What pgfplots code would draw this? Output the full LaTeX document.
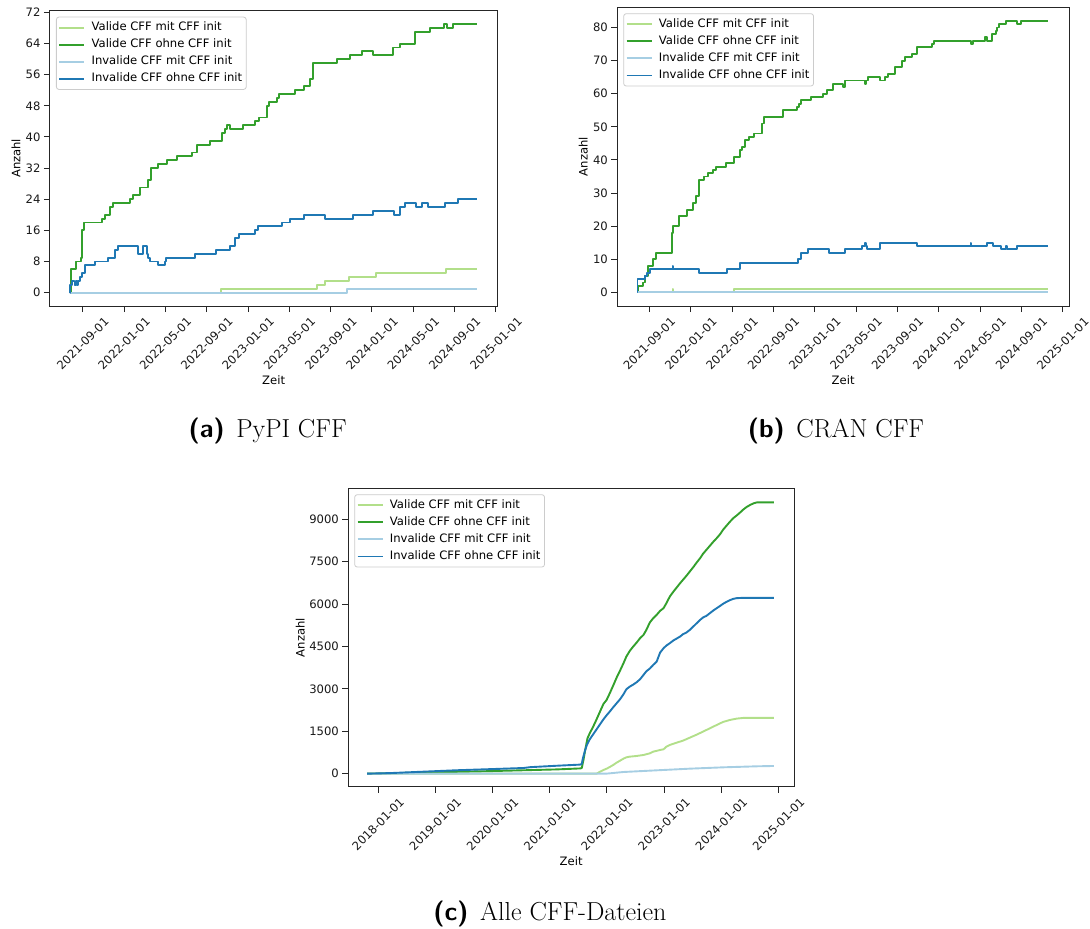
\documentclass[border=0pt]{standalone}
\usepackage{fontspec}
\usepackage{pgfplots}
\pgfplotsset{compat=1.18}
\newfontfamily\dvs{DejaVu Sans}
\newcommand\chartfont{\dvs\fontsize{11.6}{13.9}\selectfont}
\definecolor{lgreen}{HTML}{B2DF8A}
\definecolor{dgreen}{HTML}{33A02C}
\definecolor{lblue}{HTML}{A6CEE3}
\definecolor{dblue}{HTML}{1F78B4}
\pgfplotsset{
 cff/.style={
  scale only axis,
  clip=true,
  axis line style={black!85, line width=1pt},
  tick align=outside,
  major tick length=6pt,
  tick style={black!85, line width=1pt},
  xtick pos=left, ytick pos=left,
  tick label style={font=\chartfont, text=black!90},
  scaled ticks=false,
  xticklabel style={anchor=center, yshift=-31.5pt, rotate=45},
  every axis x label/.style={at={(axis description cs:0.5,0)}, anchor=center, yshift=-74pt, font=\chartfont},
  every axis y label/.style={at={(axis description cs:0,0.5)}, xshift=-34pt, rotate=90, anchor=center, font=\chartfont},
  xlabel={Zeit}, ylabel={Anzahl},
  legend cell align=left,
  legend style={at={(0,1)}, anchor=north west, xshift=6pt, yshift=-6pt, draw=black!20, line width=0.8pt, rounded corners=2.5pt, fill=white, fill opacity=0.8, text opacity=1, draw opacity=1, font=\chartfont, inner xsep=2pt, inner ysep=3pt, row sep=2.1pt, column sep=4.3pt, nodes={inner sep=2pt, text height=8.5pt, text depth=2.5pt}},
  legend image code/.code={\draw[#1, line width=1.9pt] (0pt,0pt) -- (25pt,0pt);},
  every axis plot/.append style={line width=1.9pt, line join=round},
 },
 monthticks/.style={
  xtick={8,12,...,48},
  xticklabels={2021-09-01,2022-01-01,2022-05-01,2022-09-01,2023-01-01,2023-05-01,2023-09-01,2024-01-01,2024-05-01,2024-09-01,2025-01-01},
 },
}
\begin{document}
\begin{tikzpicture}
\useasboundingbox (0,0) rectangle (1090pt,-929pt);

% (a) PyPI CFF  -- x: months since 2021-01-01
\begin{axis}[cff, monthticks, at={(50pt,-306pt)}, anchor=south west,
  width=447.3pt, height=295.3pt,
  xmin=4.83, xmax=48.13, ymin=-3.45, ymax=72.45,
  ytick={0,8,...,72}, yticklabels={0,8,16,24,32,40,48,56,64,72}]
\addplot[lgreen, const plot] coordinates {(6.77,0) (21.39,1) (30.65,2) (31.45,3) (33.81,4) (36.39,5) (43.16,6) (46.19,6)};
\addlegendentry{Valide CFF mit CFF init}
\addplot[dgreen, const plot] coordinates {(6.77,0) (6.84,6) (7.35,8) (7.84,9) (7.97,16) (8.16,18) (9.84,19) (10.16,20) (10.65,22) (10.97,23) (12.58,24) (12.90,25) (13.55,27) (14.35,29) (14.58,32) (15.32,33) (16.13,34) (17.10,35) (18.55,36) (19.03,38) (20.32,39) (21.45,41) (21.77,42) (21.94,43) (22.26,42) (23.55,43) (24.68,44) (25.10,45) (25.81,48) (26.06,49) (26.77,50) (27.03,51) (28.55,52) (29.42,53) (30.0,55) (30.26,59) (32.65,60) (33.87,61) (35.0,62) (36.13,61) (38.06,63) (38.71,64) (40.16,67) (41.61,68) (43.0,69) (43.23,68) (43.87,69) (46.19,69)};
\addlegendentry{Valide CFF ohne CFF init}
\addplot[lblue, const plot] coordinates {(6.77,0) (33.55,1) (46.19,1)};
\addlegendentry{Invalide CFF mit CFF init}
\addplot[dblue, const plot] coordinates {(6.77,0) (6.80,2) (7.0,3) (7.20,2) (7.35,3) (7.48,2) (7.58,3) (7.74,4) (7.90,5) (8.23,7) (9.19,8) (10.48,9) (11.13,11) (11.45,12) (13.39,10) (13.81,12) (14.19,10) (14.35,9) (14.52,8) (15.32,7) (15.97,8) (16.06,9) (18.87,10) (20.90,11) (22.26,12) (22.74,14) (23.13,15) (24.68,16) (25.0,17) (27.26,18) (28.06,19) (29.42,20) (31.45,19) (34.19,20) (36.13,21) (38.13,20) (38.71,22) (39.19,23) (40.26,22) (40.81,23) (41.45,22) (43.06,23) (44.35,24) (46.19,24)};
\addlegendentry{Invalide CFF ohne CFF init}
\end{axis}

% (b) CRAN CFF
\begin{axis}[cff, monthticks, at={(617.3pt,-306pt)}, anchor=south west,
  width=451.7pt, height=298.7pt,
  xmin=4.90, xmax=48.61, ymin=-4.1, ymax=86.1,
  ytick={0,10,...,80}, yticklabels={0,10,20,30,40,50,60,70,80}]
\addplot[lgreen, const plot] coordinates {(6.84,0) (10.26,1) (10.32,0) (16.19,1) (46.61,1)};
\addlegendentry{Valide CFF mit CFF init}
\addplot[dgreen, const plot] coordinates {(6.84,0) (6.87,2) (7.42,3) (7.58,5) (7.90,8) (8.39,10) (8.65,12) (10.16,18) (10.26,20) (10.90,23) (11.68,25) (12.19,27) (12.52,29) (12.84,34) (13.29,35) (13.71,36) (14.13,37) (14.45,38) (15.42,39) (16.19,41) (16.77,43) (16.94,44) (17.26,46) (17.68,47) (18.13,48) (18.87,51) (19.10,53) (20.90,55) (22.32,56) (22.45,57) (22.65,58) (23.61,59) (24.77,60) (25.23,61) (25.81,63) (26.77,62) (26.94,64) (28.87,63) (28.97,64) (29.19,65) (30.32,64) (30.81,65) (31.13,66) (31.77,68) (32.42,70) (32.74,71) (33.39,72) (33.94,74) (35.32,75) (35.55,76) (39.16,75) (39.29,76) (40.52,77) (40.65,76) (41.13,78) (41.55,79) (41.68,80) (41.87,81) (42.52,82) (43.61,81) (43.94,82) (46.61,82)};
\addlegendentry{Valide CFF ohne CFF init}
\addplot[lblue, const plot] coordinates {(6.84,0) (46.61,0)};
\addlegendentry{Invalide CFF mit CFF init}
\addplot[dblue, const plot] coordinates {(6.84,0) (6.85,4) (7.58,5) (7.81,6) (8.06,7) (10.26,8) (10.32,7) (12.84,6) (15.55,7) (16.77,9) (22.42,10) (22.65,12) (23.39,13) (25.42,12) (26.94,13) (28.55,14) (28.90,15) (28.97,14) (29.10,13) (30.32,15) (33.87,14) (39.13,15) (39.16,14) (40.65,15) (41.23,14) (42.0,13) (42.52,14) (42.58,13) (43.61,14) (46.61,14)};
\addlegendentry{Invalide CFF ohne CFF init}
\end{axis}

% (c) Alle CFF-Dateien -- x: years
\begin{axis}[cff, at={(348.3pt,-786.7pt)}, anchor=south west,
  width=445.7pt, height=298.4pt,
  xmin=2017.48, xmax=2025.27, ymin=-462, ymax=10100,
  xtick={2018,...,2025},
  xticklabels={2018-01-01,2019-01-01,2020-01-01,2021-01-01,2022-01-01,2023-01-01,2024-01-01,2025-01-01},
  ytick={0,1500,...,9000}, yticklabels={0,1500,3000,4500,6000,7500,9000},
  every axis y label/.style={at={(axis description cs:0,0.5)}, xshift=-48pt, rotate=90, anchor=center, font=\chartfont}]
\addplot[lgreen] coordinates {(2017.81,0) (2021.82,0) (2021.88,70) (2021.94,130) (2021.995,177) (2022.05,236) (2022.11,307) (2022.17,390) (2022.23,460) (2022.29,531) (2022.34,579) (2022.40,602) (2022.52,626) (2022.64,661) (2022.75,720) (2022.81,779) (2022.93,838) (2022.99,862) (2023.04,957) (2023.10,1016) (2023.22,1098) (2023.33,1169) (2023.45,1275) (2023.57,1382) (2023.68,1488) (2023.80,1606) (2023.92,1724) (2024.03,1830) (2024.15,1901) (2024.27,1949) (2024.38,1972) (2024.92,1972)};
\addlegendentry{Valide CFF mit CFF init}
\addplot[dgreen] coordinates {(2017.81,0) (2018.21,15) (2018.79,40) (2019.37,65) (2019.96,90) (2020.54,120) (2021.12,150) (2021.53,185) (2021.56,195) (2021.59,484) (2021.62,830) (2021.66,1250) (2021.70,1430) (2021.76,1665) (2021.82,1925) (2021.88,2200) (2021.94,2470) (2021.995,2610) (2022.05,2846) (2022.11,3118) (2022.17,3400) (2022.23,3650) (2022.29,3909) (2022.34,4145) (2022.40,4346) (2022.46,4500) (2022.52,4641) (2022.58,4795) (2022.64,4913) (2022.69,5090) (2022.75,5350) (2022.81,5503) (2022.87,5622) (2022.93,5763) (2022.99,5858) (2023.04,6035) (2023.10,6271) (2023.16,6437) (2023.22,6590) (2023.28,6743) (2023.33,6862) (2023.39,7003) (2023.45,7157) (2023.51,7310) (2023.57,7476) (2023.63,7629) (2023.68,7783) (2023.74,7925) (2023.80,8066) (2023.86,8208) (2023.92,8338) (2023.98,8480) (2024.03,8633) (2024.09,8775) (2024.15,8916) (2024.21,9046) (2024.27,9141) (2024.33,9247) (2024.38,9342) (2024.44,9436) (2024.50,9507) (2024.56,9566) (2024.62,9601) (2024.92,9601)};
\addlegendentry{Valide CFF ohne CFF init}
\addplot[lblue] coordinates {(2017.81,0) (2021.99,0) (2022.29,59) (2022.87,118) (2023.45,177) (2024.03,224) (2024.62,260) (2024.92,272)};
\addlegendentry{Invalide CFF mit CFF init}
\addplot[dblue] coordinates {(2017.81,0) (2018.21,20) (2018.79,70) (2019.37,120) (2019.96,160) (2020.54,200) (2020.66,230) (2021.12,280) (2021.53,320) (2021.56,340) (2021.58,543) (2021.62,838) (2021.65,1015) (2021.70,1216) (2021.76,1393) (2021.82,1570) (2021.88,1748) (2021.94,1925) (2021.995,2067) (2022.05,2197) (2022.11,2350) (2022.17,2492) (2022.23,2634) (2022.29,2811) (2022.34,2988) (2022.40,3082) (2022.46,3153) (2022.52,3236) (2022.58,3342) (2022.64,3496) (2022.69,3626) (2022.75,3720) (2022.81,3850) (2022.87,3968) (2022.93,4287) (2022.99,4440) (2023.04,4535) (2023.10,4618) (2023.16,4712) (2023.22,4783) (2023.28,4854) (2023.33,4937) (2023.39,4996) (2023.45,5090) (2023.51,5208) (2023.57,5326) (2023.63,5444) (2023.68,5527) (2023.74,5586) (2023.80,5681) (2023.86,5775) (2023.92,5858) (2023.98,5940) (2024.03,6011) (2024.09,6082) (2024.15,6141) (2024.21,6188) (2024.27,6212) (2024.38,6224) (2024.92,6224)};
\addlegendentry{Invalide CFF ohne CFF init}
\end{axis}

% captions
\node[anchor=base, font=\fontsize{26}{31}\selectfont] at (267.7pt,-437pt) {{\sffamily\bfseries (a)}\hspace{0.45em}PyPI CFF};
\node[anchor=base, font=\fontsize{26}{31}\selectfont] at (836pt,-437pt) {{\sffamily\bfseries (b)}\hspace{0.45em}CRAN CFF};
\node[anchor=base, font=\fontsize{26}{31}\selectfont] at (550pt,-920pt) {{\sffamily\bfseries (c)}\hspace{0.45em}Alle CFF-Dateien};
\end{tikzpicture}
\end{document}
